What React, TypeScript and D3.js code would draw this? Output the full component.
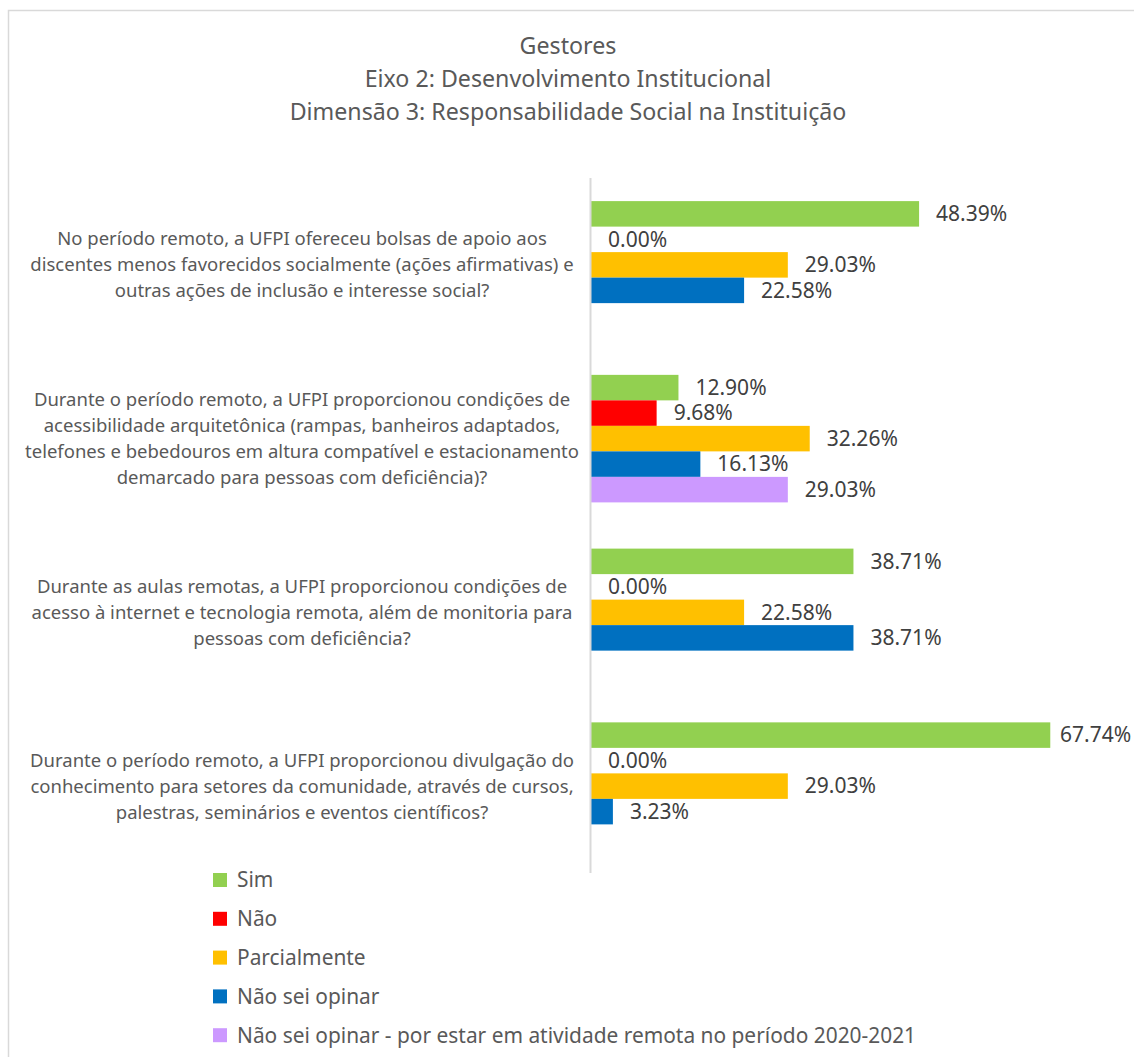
import React from "react";
import * as d3 from "d3";

const titleLines = [
  "Gestores",
  "Eixo 2: Desenvolvimento Institucional",
  "Dimensão 3: Responsabilidade Social na Instituição",
];

const categories = ["q1", "q2", "q3", "q4"];

const categoryLabels: string[][] = [
  [
    "No período remoto, a UFPI ofereceu bolsas de apoio aos",
    "discentes menos favorecidos socialmente (ações afirmativas) e",
    "outras ações de inclusão e interesse social?",
  ],
  [
    "Durante o período remoto, a UFPI proporcionou condições de",
    "acessibilidade arquitetônica (rampas, banheiros adaptados,",
    "telefones e bebedouros em altura compatível e estacionamento",
    "demarcado para pessoas com deficiência)?",
  ],
  [
    "Durante as aulas remotas, a UFPI proporcionou condições de",
    "acesso à internet e tecnologia remota, além de monitoria para",
    "pessoas com deficiência?",
  ],
  [
    "Durante o período remoto, a UFPI proporcionou divulgação do",
    "conhecimento para setores da comunidade, através de cursos,",
    "palestras, seminários e eventos científicos?",
  ],
];

const seriesNames = [
  "Sim",
  "Não",
  "Parcialmente",
  "Não sei opinar",
  "Não sei opinar - por estar em atividade remota no período 2020-2021",
];

const seriesColors = ["#92D050", "#FF0000", "#FFC000", "#0070C0", "#CC99FF"];

const simValues = [48.39, 12.9, 38.71, 67.74];
const naoValues = [0.0, 9.68, 0.0, 0.0];
const parcialValues = [29.03, 32.26, 22.58, 29.03];
const naoSeiValues = [22.58, 16.13, 38.71, 3.23];
const remotoValues: (number | null)[] = [null, 29.03, null, null];

const seriesValues: (number | null)[][] = [
  simValues,
  naoValues,
  parcialValues,
  naoSeiValues,
  remotoValues,
];

const FONT = "'Noto Sans', 'Open Sans', sans-serif";

export default function App() {
  const width = 1134;
  const height = 1057;

  const x = d3.scaleLinear().domain([0, 80]).range([591, 1133.4]);
  const y0 = d3.scaleBand<string>().domain(categories).range([178, 873]).padding(0);
  const y1 = d3
    .scaleBand<string>()
    .domain(seriesNames)
    .range([0, y0.bandwidth()])
    .paddingInner(0)
    .paddingOuter(0.906);

  const lineH = 26;

  return (
    <svg
      width={width}
      height={height}
      style={{ position: "absolute", left: 0, top: 0, background: "#fff" }}
      fontFamily={FONT}
    >
      <rect x={0} y={0} width={width} height={height} fill="#fff" />
      <rect
        x={8.5}
        y={10.5}
        width={1400}
        height={1400}
        fill="none"
        stroke="#d9d9d9"
        strokeWidth={1.5}
      />
      {titleLines.map((t, i) => (
        <text
          key={i}
          x={568}
          y={46 + i * 33}
          dy="0.35em"
          textAnchor="middle"
          fontSize={23.2}
          fill="#595959"
        >
          {t}
        </text>
      ))}

      {categories.map((c, ci) => {
        const lines = categoryLabels[ci];
        const cy = (y0(c) as number) + y0.bandwidth() / 2;
        const start = cy - ((lines.length - 1) * lineH) / 2;
        return (
          <g key={c}>
            {lines.map((ln, li) => (
              <text
                key={li}
                x={302}
                y={start + li * lineH}
                dy="0.35em"
                textAnchor="middle"
                fontSize={18.5}
                fill="#595959"
              >
                {ln}
              </text>
            ))}
            {seriesNames.map((s, si) => {
              const v = seriesValues[si][ci];
              if (v === null || v === undefined) return null;
              const by = (y0(c) as number) + (y1(s) as number);
              const bh = y1.bandwidth();
              const lx = Math.min(x(v) + 17, width - 74);
              return (
                <g key={s}>
                  {v > 0 && (
                    <rect
                      x={x(0)}
                      y={by}
                      width={x(v) - x(0)}
                      height={bh}
                      fill={seriesColors[si]}
                    />
                  )}
                  <text
                    x={lx}
                    y={by + bh / 2}
                    dy="0.35em"
                    fontSize={21}
                    fill="#404040"
                  >
                    {v.toFixed(2) + "%"}
                  </text>
                </g>
              );
            })}
          </g>
        );
      })}

      <line x1={590.5} x2={590.5} y1={178} y2={873} stroke="#d9d9d9" strokeWidth={2} />

      {seriesNames.map((s, i) => {
        const cy = 880 + i * 38.8;
        return (
          <g key={s}>
            <rect x={213} y={cy - 7} width={14} height={14} fill={seriesColors[i]} />
            <text x={237} y={cy} dy="0.35em" fontSize={20.9} fill="#595959">
              {s}
            </text>
          </g>
        );
      })}
    </svg>
  );
}
